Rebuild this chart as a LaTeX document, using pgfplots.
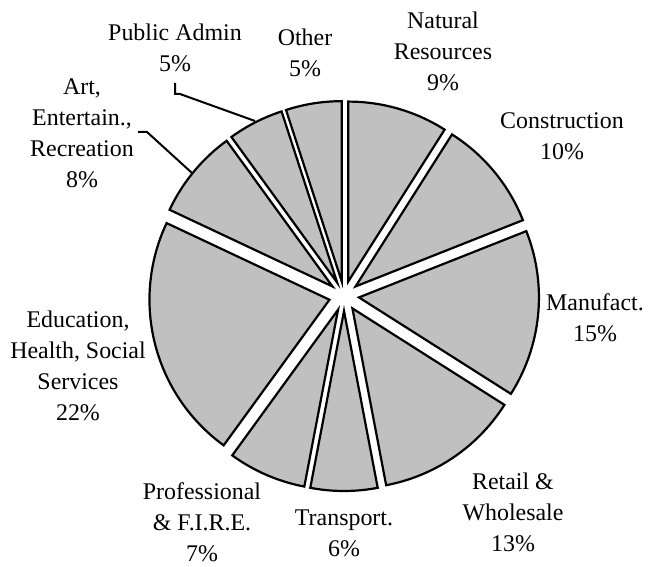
\documentclass[border=0pt]{standalone}
\usepackage{fontspec}
\setmainfont{Liberation Serif}
\usepackage{pgfplots}
\pgfplotsset{compat=1.18}
\definecolor{slicegray}{HTML}{C0C0C0}
\tikzset{
  slice/.style={fill=slicegray,draw=black,line width=2.2bp},
  lab/.style={font=\fontsize{24}{31}\selectfont, align=center, inner sep=0pt, text=black}
}
% #1 = cumulative share before the slice (%), #2 = share of the slice (%)
\newcommand\slice[2]{%
  \pgfmathsetmacro\angA{90-3.6*(#1+#2)}%
  \pgfmathsetmacro\angB{90-3.6*#1}%
  \pgfmathsetmacro\angM{90-3.6*(#1+#2/2)}%
  \pgfmathsetmacro\ox{344+15*cos(\angM)}%
  \pgfmathsetmacro\oy{271+15*sin(\angM)}%
  \edef\tmp{\noexpand\addplot[slice, domain=\angA:\angB, samples=80] ({\ox+180*cos(x)},{\oy+180*sin(x)}) -- (axis cs:\ox,\oy) -- cycle;}%
  \tmp}
\begin{document}
\begin{tikzpicture}
\begin{axis}[x=1bp,y=1bp,xmin=0,xmax=649,ymin=0,ymax=567,hide axis,clip=false]
\slice{0}{9}   % Natural Resources
\slice{9}{10}  % Construction
\slice{19}{15} % Manufact.
\slice{34}{13} % Retail & Wholesale
\slice{47}{6}  % Transport.
\slice{53}{7}  % Professional & F.I.R.E.
\slice{60}{22} % Education, Health, Social Services
\slice{82}{8}  % Art, Entertain., Recreation
\slice{90}{5}  % Public Admin
\slice{95}{5}  % Other
% leader lines
\addplot[black, line width=2bp] coordinates {(175,484) (175,473) (180,473) (255,446)};
\addplot[black, line width=2bp] coordinates {(138,435) (147,435) (192,394)};
% labels
\node[lab] at (axis cs:443,515.5) {Natural\\Resources\\9\%};
\node[lab] at (axis cs:562,430.5) {Construction\\10\%};
\node[lab] at (axis cs:595,249.5) {Manufact.\\15\%};
\node[lab] at (axis cs:513,55) {Retail \&\\Wholesale\\13\%};
\node[lab] at (axis cs:344,34) {Transport.\\6\%};
\node[lab] at (axis cs:202,45) {Professional\\\& F.I.R.E.\\7\%};
\node[lab] at (axis cs:78,201) {Education,\\Health, Social\\Services\\22\%};
\node[lab] at (axis cs:82,434) {Art,\\Entertain.,\\Recreation\\8\%};
\node[lab] at (axis cs:175,519.5) {Public Admin\\5\%};
\node[lab] at (axis cs:305,514) {Other\\5\%};
\end{axis}
\pgfresetboundingbox
\useasboundingbox (current axis.south west) rectangle (current axis.north east);
\end{tikzpicture}
\end{document}
